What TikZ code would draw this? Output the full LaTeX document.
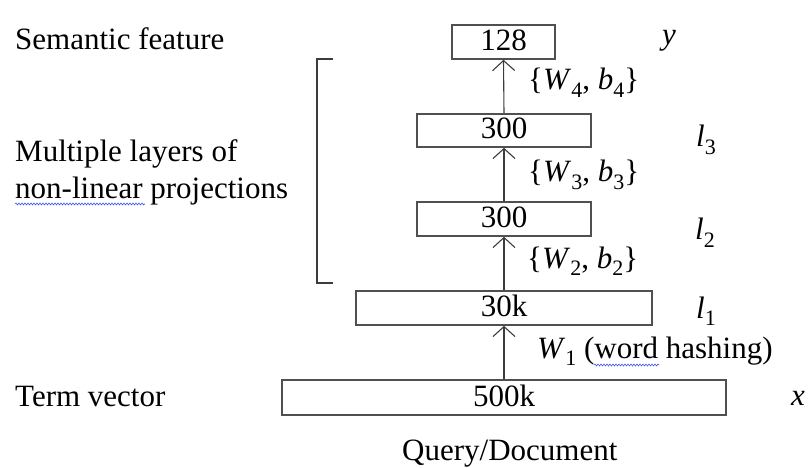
\documentclass[tikz,border=0pt]{standalone}
\usepackage{fontspec}
\setmainfont{Liberation Serif}
\usetikzlibrary{arrows.meta,decorations.pathmorphing}
\definecolor{boxgray}{RGB}{80,80,80}
\definecolor{linegray}{RGB}{60,60,60}
\definecolor{squig}{RGB}{70,90,230}
\newcommand{\mvsub}[2]{\textit{#1}\raisebox{-0.24em}{\fontsize{22}{22}\selectfont #2}}
\tikzset{
  layerbox/.style={draw=boxgray, line width=1.6pt, inner sep=0pt, text height=21pt, text depth=4pt},
  uparrow/.style={draw=linegray, line width=1.1pt, -{Straight Barb[length=10pt,width=22pt,line width=1.1pt]}},
  lbl/.style={anchor=base west, inner sep=0pt},
  squiggle/.style={draw=squig, line width=0.6pt, decorate, decoration={snake, amplitude=1pt, segment length=3pt}}
}
\begin{document}
\begin{tikzpicture}[x=1pt,y=-1pt,font=\fontsize{31}{37}\selectfont]
\useasboundingbox (0,0) rectangle (809,468);
% layer boxes
\node[layerbox, minimum width=103pt, minimum height=34pt] (b4) at (503.5,42) {128};
\node[layerbox, minimum width=174pt, minimum height=33pt] (b3) at (504,130.5) {300};
\node[layerbox, minimum width=174pt, minimum height=34pt] (b2) at (504,219) {300};
\node[layerbox, minimum width=296pt, minimum height=34pt] (b1) at (504,308) {30k};
\node[layerbox, minimum width=444pt, minimum height=35pt] (b0) at (504,397.5) {500k};
% arrows
\draw[uparrow] (b0.north) -- (b1.south);
\draw[uparrow] (b1.north) -- (b2.south);
\draw[uparrow] (b2.north) -- (b3.south);
\draw[uparrow] (b3.north) -- (b4.south);
% weight labels
\node[lbl] (w4) at (528,90) {\{\mvsub{W}{4}, \mvsub{b}{4}\}};
\node[lbl] (w3) at (528,182) {\{\mvsub{W}{3}, \mvsub{b}{3}\}};
\node[lbl] (w2) at (527,268) {\{\mvsub{W}{2}, \mvsub{b}{2}\}};
\node[lbl] (w1) at (537,358) {\mvsub{W}{1}\ (word hashing)};
% layer names
\node[lbl] (ly) at (662,45) {\textit{y}};
\node[lbl] (l3) at (696,147) {\mvsub{l}{3}};
\node[lbl] (l2) at (695,240) {\mvsub{l}{2}};
\node[lbl] (l1) at (696,318) {\mvsub{l}{1}};
\node[lbl] (lx) at (791,405) {\textit{x}};
% left texts
\node[lbl] (sem) at (15,50) {Semantic feature};
\node[lbl] (mult1) at (15,162) {Multiple layers of};
\node[lbl] (mult2) at (15,198) {non-linear projections};
\node[lbl] (term) at (15,406) {Term vector};
\node[lbl] (qd) at (402,460) {Query/Document};
% bracket
\draw[draw=linegray, line width=1.1pt] (333,59) -- (317,59) -- (317,283) -- (333,283);
% spell-check squiggles
\draw[squiggle] (15,204) -- (145,204);
\draw[squiggle] (594,365) -- (659,365);
\end{tikzpicture}
\end{document}
